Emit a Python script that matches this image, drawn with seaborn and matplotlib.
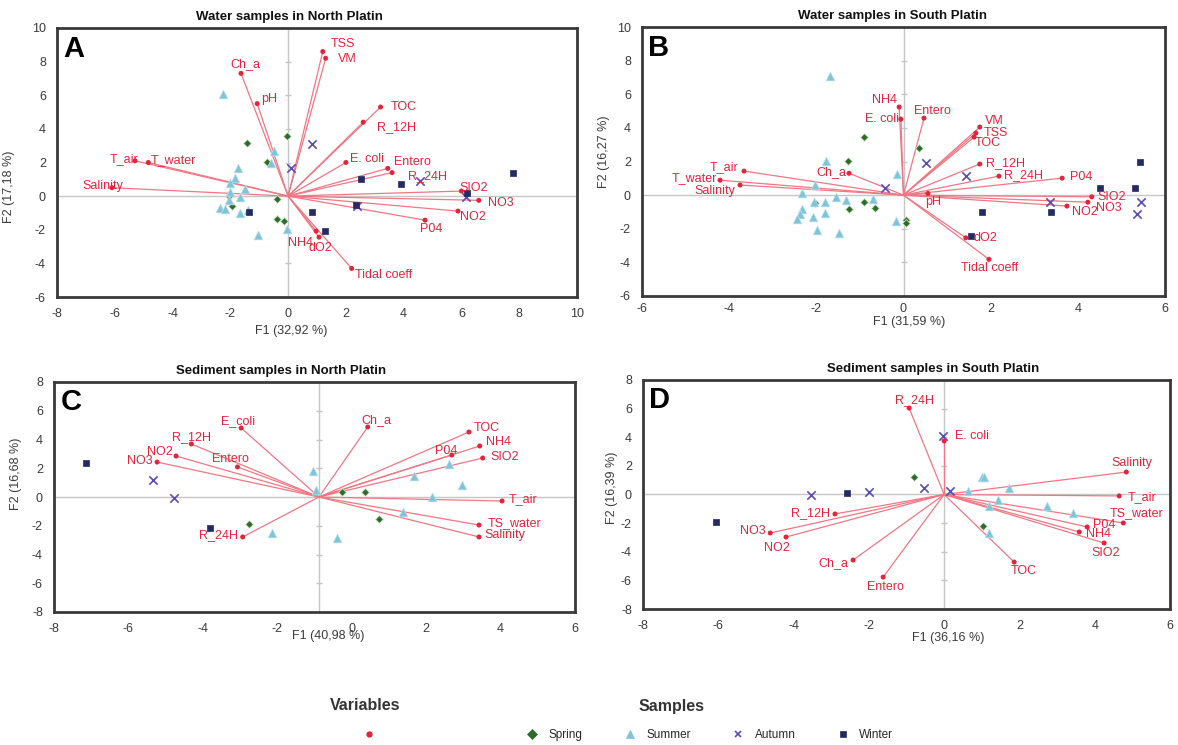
import matplotlib
matplotlib.use('Agg')
import matplotlib.pyplot as plt
from matplotlib.lines import Line2D
import numpy as np
import pandas as pd
import seaborn as sns

# ---------------- panel A : water samples, North Platin ----------------
a_vars = ['TSS', 'VM', 'Ch_a', 'pH', 'T_air', 'T_water', 'Salinity', 'TOC', 'R_12H',
          'E. coli', 'Entero', 'R_24H', 'SIO2', 'NO3', 'NO2', 'P04', 'NH4', 'dO2', 'Tidal coeff']
a_vx = [1.2, 1.3, -1.63, -1.07, -5.3, -4.84, -6.1, 3.2, 2.6, 2.0, 3.45, 3.6, 6.0, 6.6, 5.88, 4.74, 0.97, 1.07, 2.2]
a_vy = [8.6, 8.2, 7.3, 5.5, 2.1, 2.0, 0.5, 5.3, 4.4, 2.0, 1.65, 1.4, 0.3, -0.25, -0.89, -1.43, -2.08, -2.44, -4.3]
a_spring = [(-0.03, 3.6), (-1.42, 3.15), (-0.73, 2.05), (-2.04, 0.0), (-0.38, -0.15),
            (-1.94, -0.58), (-0.38, -1.37), (-0.14, -1.49)]
a_summer = [(-2.25, 6.1), (-0.5, 2.7), (-0.6, 2.0), (-1.75, 1.7), (-1.85, 1.1), (-2.0, 0.8),
            (-1.5, 0.45), (-2.0, 0.25), (-1.65, -0.05), (-2.05, -0.25), (-2.35, -0.7),
            (-2.2, -0.75), (-1.4, -0.8), (-1.65, -1.0), (-1.05, -2.3), (-0.05, -1.95)]
a_autumn = [(0.1, 1.67), (0.83, 3.1), (4.57, 0.9), (6.16, -0.06), (2.39, -0.6)]
a_winter = [(2.53, 1.01), (3.91, 0.71), (7.79, 1.37), (6.19, 0.18), (0.83, -0.95),
            (2.35, -0.54), (1.28, -2.08), (-1.35, -0.95)]

# ---------------- panel B : water samples, South Platin ----------------
b_vars = ['T_air', 'T_water', 'Salinity', 'Ch_a', 'NH4', 'E. coli', 'Entero', 'VM', 'TSS', 'TOC',
          'R_12H', 'R_24H', 'P04', 'SIO2', 'NO3', 'NO2', 'pH', 'dO2', 'Tidal coeff']
b_vx = [-3.66, -4.21, -3.75, -1.25, -0.1, -0.06, 0.47, 1.75, 1.66, 1.62, 1.75, 2.19, 3.64,
        4.32, 4.23, 3.75, 0.56, 1.43, 1.96]
b_vy = [1.43, 0.89, 0.6, 1.3, 5.24, 4.52, 4.58, 4.05, 3.69, 3.45, 1.85, 1.13, 1.01,
        -0.1, -0.42, -0.65, 0.1, -2.54, -3.82]
b_spring = [(-0.91, 3.45), (-1.27, 2.02), (-1.25, -0.85), (-0.91, -0.42), (-0.65, -0.77),
            (-2.03, -0.45), (0.35, 2.8), (0.06, -1.49), (0.06, -1.67)]
b_summer = [(-1.69, 7.08), (-1.78, 2.02), (-2.03, 0.6), (-2.33, 0.12), (-2.06, -0.42),
            (-1.8, -0.42), (-1.55, -0.12), (-1.32, -0.3), (-0.7, -0.24), (-2.33, -0.8),
            (-2.37, -1.1), (-2.44, -1.4), (-2.08, -1.33), (-1.8, -1.07), (-1.99, -2.1),
            (-1.48, -2.27), (-0.15, 1.25), (-0.17, -1.54)]
b_autumn = [(-0.42, 0.42), (0.52, 1.9), (1.43, 1.13), (3.36, -0.42), (5.45, -0.42), (5.36, -1.13)]
b_winter = [(5.43, 1.96), (4.51, 0.42), (5.31, 0.42), (1.8, -1.01), (3.38, -1.01), (1.55, -2.44)]

# ---------------- panel C : sediment samples, North Platin ----------------
c_vars = ['E_coli', 'R_12H', 'NO2', 'NO3', 'Entero', 'R_24H', 'Ch_a', 'TOC', 'NH4', 'P04',
          'SIO2', 'T_air', 'TS_water', 'Salinity']
c_vx = [-2.97, -4.31, -4.72, -5.23, -3.07, -2.93, 0.43, 3.15, 3.44, 2.69, 3.52, 4.04, 3.42, 3.42]
c_vy = [4.8, 3.69, 2.85, 2.43, 2.09, -2.78, 4.87, 4.52, 3.55, 2.92, 2.71, -0.28, -1.95, -2.78]
c_spring = [(-2.75, -1.88), (-0.27, 0.35), (0.35, 0.35), (0.72, -1.53)]
c_summer = [(-2.13, -2.5), (-1.05, 1.81), (-0.95, 0.49), (-0.4, -2.85), (1.67, 1.46),
            (2.15, 0.0), (2.61, 2.3), (2.96, 0.84), (1.37, -1.04)]
c_autumn = [(-5.33, 1.18), (-4.77, -0.07)]
c_winter = [(-7.14, 2.37), (-3.8, -2.16)]

# ---------------- panel D : sediment samples, South Platin ----------------
d_vars = ['R_12H', 'NO3', 'NO2', 'Ch_a', 'Entero', 'R_24H', 'E. coli', 'Salinity', 'T_air',
          'TS_water', 'P04', 'NH4', 'SIO2', 'TOC']
d_vx = [-2.9, -4.62, -4.2, -2.42, -1.62, -0.93, 0.0, 4.84, 4.65, 4.76, 3.8, 3.59, 4.25, 1.86]
d_vy = [-1.36, -2.69, -2.97, -4.58, -5.77, 6.04, 3.74, 1.57, -0.1, -1.99, -2.27, -2.62, -3.39, -4.72]
d_spring = [(-0.8, 1.22), (1.04, -2.2)]
d_summer = [(0.64, 0.24), (1.01, 1.22), (1.06, 1.2), (1.73, 0.45), (1.43, -0.38),
            (1.2, -0.8), (2.74, -0.8), (3.43, -1.29), (1.2, -2.69)]
d_autumn = [(-3.53, -0.03), (-1.99, 0.17), (-0.53, 0.45), (-0.03, 4.09), (0.16, 0.24)]
d_winter = [(-6.06, -1.92), (-2.58, 0.1)]

seasons = ['Spring', 'Summer', 'Autumn', 'Winter']

# label placement (pixel offsets from the point, horizontal alignment)
a_lab = {'TSS': (8, 8, 'left'), 'VM': (12, -1, 'left'), 'Ch_a': (4, 9, 'center'),
         'pH': (4, 5, 'left'), 'T_air': (3, 2, 'right'), 'T_water': (2, 2, 'left'),
         'Salinity': (-9, 2, 'center'), 'TOC': (10, 0, 'left'), 'R_12H': (14, -5, 'left'),
         'E. coli': (4, 3, 'left'), 'Entero': (6, 6, 'left'), 'R_24H': (16, -3, 'left'),
         'SIO2': (-2, 3, 'left'), 'NO3': (9, -3, 'left'), 'NO2': (2, -6, 'left'),
         'P04': (-5, -9, 'left'), 'NH4': (-3, -12, 'right'), 'dO2': (1, -11, 'center'),
         'Tidal coeff': (3, -7, 'left')}
b_lab = {'T_air': (-6, 4, 'right'), 'T_water': (-3, 2, 'right'), 'Salinity': (-5, -6, 'right'),
         'Ch_a': (-3, 1, 'right'), 'NH4': (-2, 7, 'right'), 'E. coli': (-2, 0, 'right'),
         'Entero': (-10, 7, 'left'), 'VM': (5, 6, 'left'), 'TSS': (8, 0, 'left'),
         'TOC': (1, -6, 'left'), 'R_12H': (6, 1, 'left'), 'R_24H': (5, 1, 'left'),
         'P04': (8, 1, 'left'), 'SIO2': (6, 0, 'left'), 'NO3': (8, -6, 'left'),
         'NO2': (5, -6, 'left'), 'pH': (-3, -9, 'left'), 'dO2': (8, 0, 'left'),
         'Tidal coeff': (1, -9, 'center')}
c_lab = {'E_coli': (-3, 7, 'center'), 'R_12H': (0, 7, 'center'), 'NO2': (-3, 4, 'right'),
         'NO3': (-4, 1, 'right'), 'Entero': (-7, 8, 'center'), 'R_24H': (-5, 2, 'right'),
         'Ch_a': (9, 7, 'center'), 'TOC': (5, 4, 'left'), 'NH4': (6, 4, 'left'),
         'P04': (-6, 4, 'center'), 'SIO2': (8, 1, 'left'), 'T_air': (7, 2, 'left'),
         'TS_water': (9, 2, 'left'), 'Salinity': (5, 2, 'left')}
d_lab = {'R_12H': (-5, 1, 'right'), 'NO3': (-5, 2, 'right'), 'NO2': (-9, -11, 'center'),
         'Ch_a': (-5, -3, 'right'), 'Entero': (2, -10, 'center'), 'R_24H': (5, 8, 'center'),
         'E. coli': (11, 5, 'left'), 'Salinity': (6, 9, 'center'), 'T_air': (9, -1, 'left'),
         'TS_water': (13, 10, 'center'), 'P04': (6, 2, 'left'), 'NH4': (7, -2, 'left'),
         'SIO2': (2, -10, 'center'), 'TOC': (10, -9, 'center')}

RED = '#e3243b'
LINE = '#f27683'
GREY = '#c6c6c6'
style = {
    'Spring': dict(marker='D', color='#2f6b2b', s=16, edgecolor='#d6e8d2', linewidth=0.6),
    'Summer': dict(marker='^', color='#80c4d8', s=40, edgecolor='#c0e2ec', linewidth=0.5),
    'Autumn': dict(marker='x', color='#5a4cb5', s=36, linewidth=1.2),
    'Winter': dict(marker='s', color='#262a62', s=15, edgecolor='#262a62', linewidth=0.5),
}

sns.set_style('white')
plt.rcParams['font.family'] = ['Liberation Sans', 'DejaVu Sans']
plt.rcParams['axes.unicode_minus'] = False

W, H = 1178, 745
fig = plt.figure(figsize=(W / 100, H / 100), dpi=100)


def box(l, t, r, b):
    return [l / W, 1 - b / H, (r - l) / W, (b - t) / H]


panels = [
    dict(rect=box(57, 28, 577, 297), names=a_vars, vx=a_vx, vy=a_vy, lab=a_lab,
         samples=[a_spring, a_summer, a_autumn, a_winter], origin=0, pad=8,
         xlim=(-8, 10), ylim=(-6, 10), letter='A', title='Water samples in North Platin', tx=289,
         xlabel='F1 (32,92 %)', ylabel='F2 (17,18 %)', xl=(0.45, -0.105), yl=(-0.08, 0.41)),
    dict(rect=box(642, 27, 1165, 296), names=b_vars, vx=b_vx, vy=b_vy, lab=b_lab,
         samples=[b_spring, b_summer, b_autumn, b_winter], origin=0, pad=5,
         xlim=(-6, 6), ylim=(-6, 10), letter='B', title='Water samples in South Platin', tx=893,
         xlabel='F1 (31,59 %)', ylabel='F2 (16,27 %)', xl=(0.51, -0.075), yl=(-0.062, 0.535)),
    dict(rect=box(54, 382, 575, 612), names=c_vars, vx=c_vx, vy=c_vy, lab=c_lab,
         samples=[c_spring, c_summer, c_autumn, c_winter], origin=-0.88, pad=8,
         xlim=(-8, 6), ylim=(-8, 8), letter='C', title='Sediment samples in North Platin', tx=281,
         xlabel='F1 (40,98 %)', ylabel='F2 (16,68 %)', xl=(0.526, -0.08), yl=(-0.062, 0.60)),
    dict(rect=box(643, 380, 1170, 609), names=d_vars, vx=d_vx, vy=d_vy, lab=d_lab,
         samples=[d_spring, d_summer, d_autumn, d_winter], origin=0, pad=8,
         xlim=(-8, 6), ylim=(-8, 8), letter='D', title='Sediment samples in South Platin', tx=933,
         xlabel='F1 (36,16 %)', ylabel='F2 (16,39 %)', xl=(0.579, -0.10), yl=(-0.048, 0.53)),
]

for p in panels:
    ax = fig.add_axes(p['rect'])
    x0 = p['origin']
    ax.set_xlim(*p['xlim'])
    ax.set_ylim(*p['ylim'])
    ax.set_xticks(np.arange(p['xlim'][0], p['xlim'][1] + 1, 2))
    ax.set_yticks(np.arange(p['ylim'][0], p['ylim'][1] + 1, 2))

    # zero axes with small tick dashes
    ax.axhline(0, color=GREY, lw=1, zorder=1)
    ax.axvline(x0, color=GREY, lw=1, zorder=1)
    yt = ax.get_yticks()[1:-1]
    ax.plot(np.full(len(yt), x0), yt, ls='', marker='_', ms=5, mew=1, color=GREY, zorder=1)

    # variable vectors
    for x, y in zip(p['vx'], p['vy']):
        ax.plot([x0, x], [0, y], color=LINE, lw=0.9, zorder=2)

    # samples
    for season, pts in zip(seasons, p['samples']):
        df = pd.DataFrame(pts, columns=['F1', 'F2'])
        sns.scatterplot(data=df, x='F1', y='F2', ax=ax, zorder=3, legend=False, **style[season])

    sns.scatterplot(x=p['vx'], y=p['vy'], color=RED, s=13, edgecolor='none', ax=ax, zorder=4)
    for name, x, y in zip(p['names'], p['vx'], p['vy']):
        dx, dy, ha = p['lab'][name]
        ax.annotate(name, (x, y), xytext=(dx, dy), textcoords='offset pixels', ha=ha,
                    va='center', color=RED, fontsize=9, zorder=5)

    ax.text(0.012, 0.975, p['letter'], transform=ax.transAxes, fontsize=21, fontweight='bold',
            ha='left', va='top', color='black')

    for sp in ax.spines.values():
        sp.set_linewidth(2)
        sp.set_color('#3a3a3a')
    ax.tick_params(length=0, labelsize=9, colors='#3a3a3a', pad=8)
    ax.tick_params(axis='x', pad=p['pad'])
    ax.set_xlabel(p['xlabel'], fontsize=9, color='#3a3a3a')
    ax.set_ylabel(p['ylabel'], fontsize=9, color='#3a3a3a')
    ax.xaxis.set_label_coords(*p['xl'])
    ax.yaxis.set_label_coords(*p['yl'])

    top_px = (1 - (p['rect'][1] + p['rect'][3])) * H
    fig.text(p['tx'] / W, 1 - (top_px - 11) / H, p['title'], ha='center', va='center',
             fontsize=9.5, fontweight='bold', color='#111111')

# legends at the bottom
fig.text(365 / W, 1 - 706 / H, 'Variables', ha='center', va='center', fontsize=11.5,
         fontweight='bold', color='#333333')
fig.text(672 / W, 1 - 706 / H, 'Samples', ha='center', va='center', fontsize=11.5,
         fontweight='bold', color='#333333')
var_handle = [Line2D([], [], ls='', marker='o', ms=3.5, color=RED)]
fig.legend(var_handle, [''], loc='center', frameon=False,
           bbox_to_anchor=(369 / W, 1 - 735 / H), handletextpad=0)
sample_handles = [Line2D([], [], ls='', marker=style[s]['marker'], color=style[s]['color'],
                         ms=5 if s != 'Summer' else 6, mew=1.2 if s == 'Autumn' else 0.5)
                  for s in seasons]
fig.legend(sample_handles, seasons, loc='center', ncol=4, frameon=False,
           bbox_to_anchor=(707 / W, 1 - 735 / H), fontsize=8.5,
           columnspacing=3.0, handletextpad=0.4)

fig.savefig('out.png', dpi=100)
